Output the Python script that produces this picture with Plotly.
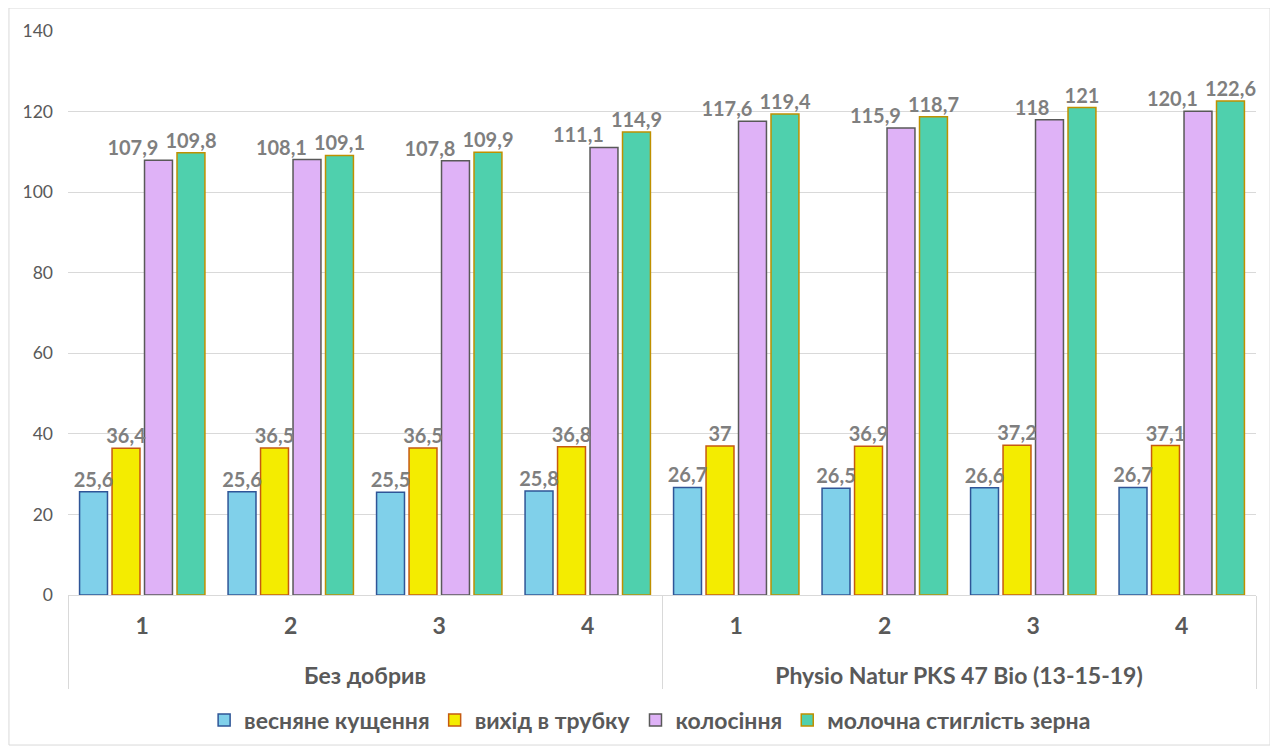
import plotly.graph_objects as go

groups = ["Без добрив"] * 4 + ["Physio Natur PKS 47 Bio (13-15-19)"] * 4
subs = ["1", "2", "3", "4", "1", "2", "3", "4"]

series_names = ["весняне кущення", "вихід в трубку", "колосіння", "молочна стиглість зерна"]
s1 = [25.6, 25.6, 25.5, 25.8, 26.7, 26.5, 26.6, 26.7]
s2 = [36.4, 36.5, 36.5, 36.8, 37.0, 36.9, 37.2, 37.1]
s3 = [107.9, 108.1, 107.8, 111.1, 117.6, 115.9, 118.0, 120.1]
s4 = [109.8, 109.1, 109.9, 114.9, 119.4, 118.7, 121.0, 122.6]

fills = ["#80d0ea", "#f4ec00", "#dfb2f7", "#4fd0ad"]
borders = ["#2f5597", "#c55a11", "#595959", "#bf9000"]
label_pos = ["top center", "top center", "top left", "top center"]


def fmt(v):
    s = ("%.1f" % v).rstrip("0").rstrip(".")
    return s.replace(".", ",")


# group labels sit one line lower than the sub-category labels
group_display = ["<br>" + g for g in groups]

fig = go.Figure()
all_series = [s1, s2, s3, s4]
for i, (name, vals) in enumerate(zip(series_names, all_series)):
    fig.add_trace(go.Bar(
        x=[group_display, subs], y=vals, name=name,
        marker=dict(color=fills[i], line=dict(color=borders[i], width=1.5)),
        hoverinfo="y",
    ))
for i, (name, vals) in enumerate(zip(series_names, all_series)):
    fig.add_trace(go.Scatter(
        x=[group_display, subs], y=vals, mode="text", showlegend=False,
        text=[fmt(v) for v in vals], textposition=label_pos[i],
        textfont=dict(family="Lato", size=20, color="#7f7f7f", weight="bold"),
        cliponaxis=False, hoverinfo="skip",
    ))

# page body has an 8px margin, so the figure is sized to fit inside the window
fig.update_layout(
    width=1270, height=743,
    margin=dict(l=60, r=22, t=23, b=156, autoexpand=False),
    paper_bgcolor="white", plot_bgcolor="white",
    barmode="group", bargap=0.125, bargroupgap=0.14,
    scattermode="group", scattergap=0.125,
    font=dict(family="Lato", color="#595959"),
    showlegend=True,
    legend=dict(orientation="h", x=0.49, xanchor="center", y=-0.2216, yanchor="middle",
                font=dict(size=23, color="#595959", weight="bold"),
                itemwidth=30, traceorder="normal"),
    shapes=[dict(type="rect", xref="paper", yref="paper",
                 x0=-0.0497, x1=1.0118, y0=-0.266, y1=1.0408,
                 line=dict(color="#d9d9d9", width=1), fillcolor="rgba(0,0,0,0)")],
)
fig.update_yaxes(range=[0, 140], dtick=20, showgrid=True, gridcolor="#d9d9d9",
                 zeroline=False, showline=False, automargin=False,
                 tickfont=dict(size=17.5, color="#595959"), ticklabelstandoff=14)
fig.update_xaxes(type="multicategory", showline=True, linecolor="#d9d9d9",
                 showdividers=True, dividercolor="#d9d9d9", dividerwidth=1,
                 automargin=False, ticklabelstandoff=10,
                 tickfont=dict(size=23, color="#595959", weight="bold"))

fig.write_html("out.html")
